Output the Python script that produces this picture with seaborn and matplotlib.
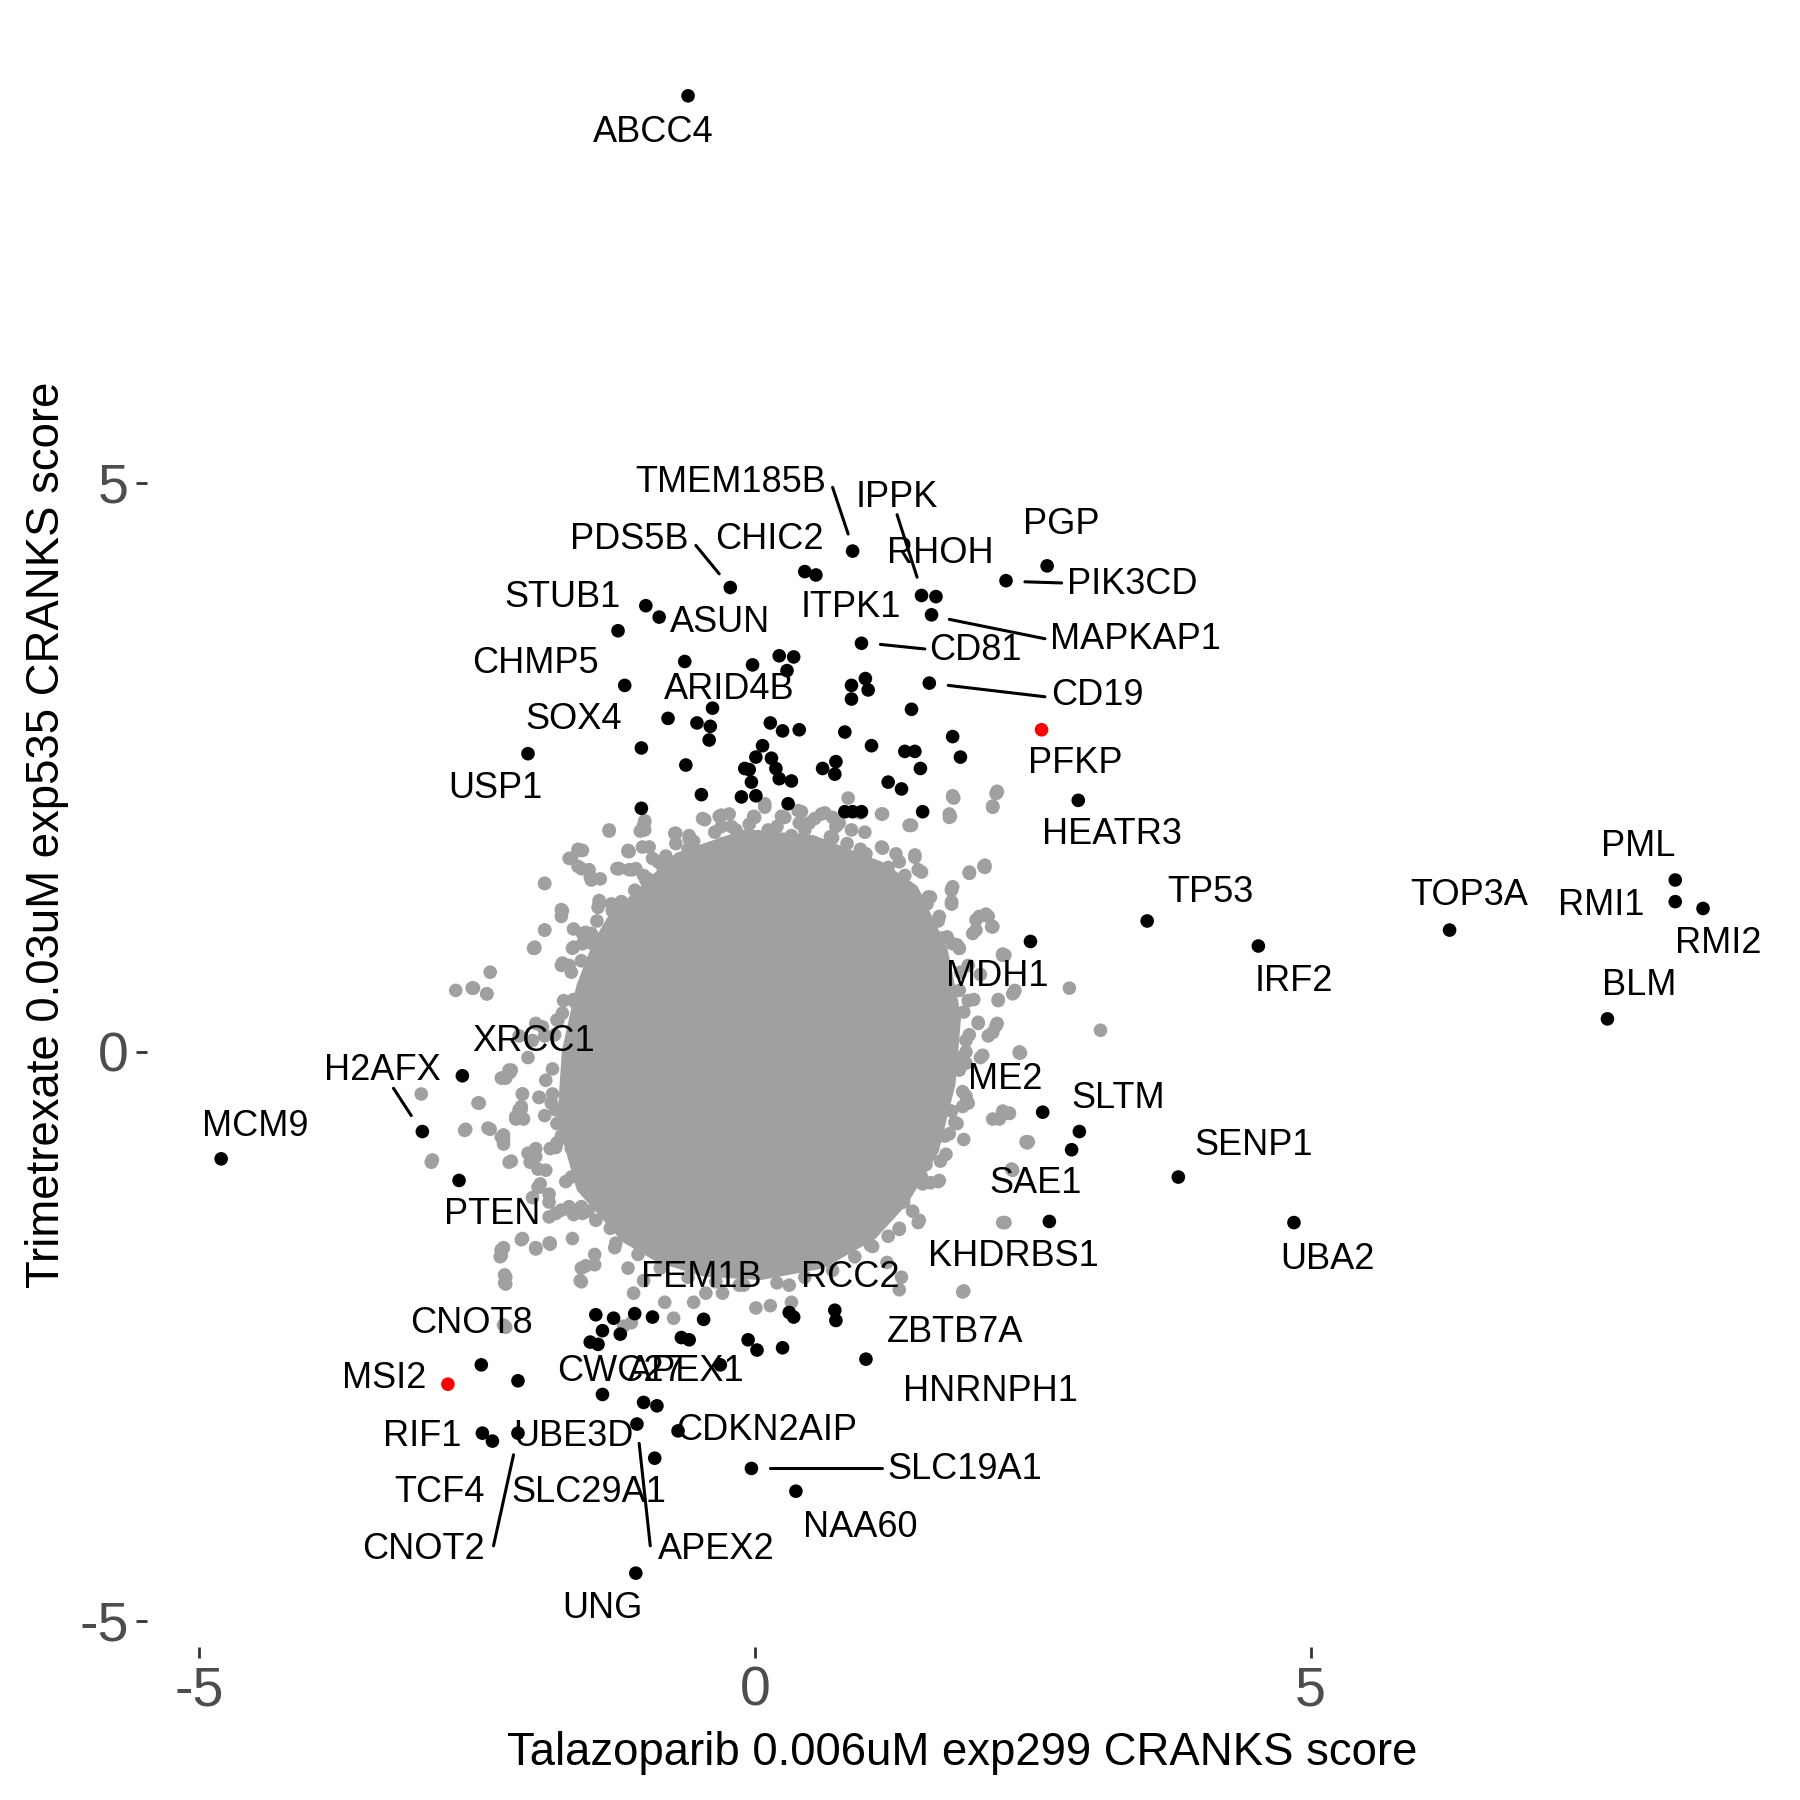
import numpy as np
import pandas as pd
import seaborn as sns
import matplotlib.pyplot as plt

# ---- data (CRANKS scores) ----
# dense centre of the cloud: outline of the solid grey area
core_x = [-1.28, -0.68, -0.08, 0.52, 1.12, 1.42, 1.68, 1.80, 1.75, 1.60, 1.33, 1.05, 0.60, 0.05,
          -0.45, -0.85, -1.15, -1.55, -1.72, -1.68, -1.55, -1.40]
core_y = [1.15, 1.70, 1.90, 1.85, 1.62, 1.42, 0.89, 0.31, -0.28, -0.86, -1.30, -1.60, -1.85, -1.95,
          -1.92, -1.80, -1.63, -1.19, -0.60, 0.00, 0.57, 0.95]

# other (non-hit) genes around the centre
grey_x = [-1.31, -1.00, -0.72, -0.59, -0.47, -0.32, -0.21, -0.01, 0.09, 0.24, 0.39, 0.54, 0.63, 0.76,
          0.95, 1.15, 1.39, 1.75, 1.78, 2.14, 2.18, 2.06, 1.93, 1.78, 1.77, 1.58, 1.50, 1.30, 1.15,
          1.00, 0.83, 0.68, 0.50, 0.33, 0.20, 0.03, -0.14, -0.29, -0.44, -0.60, -0.77, -0.92, -1.07,
          -1.24, -1.39, -1.59, -1.65, -1.59, -1.48, -1.89, -1.74, -1.74, -1.89, -1.98, -1.63, -1.52,
          -1.41, -1.29, -1.14, -0.96,
          1.99, 2.10, 2.14, 1.73, 1.82, 2.23, 1.92, 2.03, 2.34, 2.19, 2.83, 1.97, 1.84, 1.88, 2.01,
          2.18, 2.10, 1.90, 2.03, 1.82, 2.38, 3.11, 1.84, 1.67, 1.92, 1.77, 2.23, 2.14, 1.82, 1.71,
          1.88, 2.44, 1.60, 1.67, 1.54, 1.50, 1.65, 2.31, 1.47, 1.30, 1.34, 2.23, 1.88, 1.30, 1.32,
          1.19, 1.04, 0.91, 0.80, 0.61, 0.35, 0.14, 0.01, 0.33, 0.31,
          -0.14, -0.29, -0.44, -0.55, -0.73, -0.81, -1.00, -1.14, -1.09, -1.26, -1.44, -1.44, -1.56,
          -1.57, -1.84, -1.97, -2.10, -2.26, -2.25, -2.25, -2.28, -2.26, -1.18, -1.11,
          -2.00, -1.85, -1.74, -1.63, -1.56, -1.70, -1.93, -1.95, -2.02, -2.19, -1.97, -2.26, -2.38,
          -2.60, -2.49, -2.10, -2.08, -1.89, -1.78, -2.28, -2.19, -2.04, -2.00, -1.78, -1.63, -1.52,
          -1.67, -1.74, -1.63, -1.97, -1.89, -2.69, -2.54, -2.41, -2.38, -2.12, -1.74, -1.84, -1.65,
          -1.82, -1.56, -1.44, -1.52,
          -3.00, -2.48, -2.91, -2.24, -2.20, -2.26, -2.26, -2.09, -1.94, -2.10, -2.15, -2.28, -2.29,
          -2.24, -2.24, -1.64, -1.97, -1.84, -1.56, -1.52, -1.94, -1.85, -1.79, -1.66, -1.55, -2.24,
          -1.99, -2.53, 1.79, 1.76, 2.18, 2.14, 1.41, 1.44, 2.39, 2.45, 2.29, 2.32, 2.25, 2.25, 2.33,
          1.87, -0.99, -1.31, -1.03,
          # transition zone, left
          -1.58, -1.67, -1.56, -1.47, -1.89, -1.23, -1.13, -1.01, -1.13, -1.73, -1.89, -1.98,
          -1.40, -1.28, -1.55, -1.46, -1.64, -1.73, -1.56, -1.41, -2.54, -2.41,
          -1.52, -1.62, -1.73, -1.77, -1.91, -2.21, -2.27, -2.09, -1.94, -2.48, -2.61, -2.40, -2.28,
          -2.12, -2.15, -2.04, -1.97, -2.21, -2.90,
          -1.88, -1.79, -1.73, -1.79, -1.88, -1.95, -1.85, -1.67, -1.61, -1.43, -1.25, -2.09, -2.28,
          -1.97, -1.85,
          # transition zone, top
          -0.99, -0.99, -1.14, -0.95, -1.22, -1.10, -0.87, -0.71, -0.59, -0.71,
          -0.45, -0.30, -0.23, -0.36, -0.17, -0.11, 0.00, 0.09, 0.27, 0.12, 0.42, 0.40, 0.49, 0.60,
          0.70, 0.73, 0.84, 0.87, 0.99, 1.14, 1.14, 1.27, 1.39, 1.44, 1.47, 1.78, 1.75, 2.17, 2.14,
          2.07, 1.93, 1.77, 1.77, 2.02, 2.14, 1.96, 1.84, 2.23, 1.66, 1.68, 1.56,
          -1.49, -1.47, -1.40, -1.28, -1.08, -0.98, -0.83, -1.55, -1.47, -1.40,
          # transition zone, right
          2.07, 1.93, 1.77, 1.77, 2.08, 1.99, 2.13, 2.23, 1.84, 2.32, 2.19, 2.01, 2.17, 2.14, 2.38,
          1.90, 2.05, 1.81, 1.90, 2.29, 2.20, 2.46, 1.66, 1.51, 1.45, 1.63, 1.75, 1.87, 1.48, 1.30,
          1.06,
          # rim of the dense centre
          -1.20, -1.00, -0.80, -0.55, -0.30, -0.05, 0.20, 0.45, 0.70, 0.95, 1.20, 1.35, 1.55, 1.65,
          1.78, 1.85, 1.92, 1.93, 1.90, 1.87, 1.80, 1.72, 1.58, 1.42, 1.20,
          0.90, 0.70, 0.45, 0.20, -0.10, -0.35, -0.60, -0.85, -1.05, -1.30,
          -1.50, -1.65, -1.78, -1.83, -1.82, -1.80, -1.72, -1.65, -1.55, -1.42]
grey_y = [1.94, 1.99, 1.92, 1.87, 2.05, 2.07, 1.98, 2.07, 2.18, 2.07, 2.12, 2.05, 2.10, 2.01,
          2.10, 2.09, 1.99, 2.09, 2.25, 2.16, 2.29, 1.63, 1.58, 1.45, 1.32, 1.36, 1.58, 1.67, 1.79,
          1.74, 1.83, 1.89, 1.78, 1.90, 1.78, 1.89, 1.81, 1.83, 1.74, 1.78, 1.67, 1.70, 1.61,
          1.61, 1.52, 1.78, 1.70, 1.63, 1.54, 1.48, 1.25, 1.19, 1.07, 0.92, 1.08, 1.05,
          1.27, 1.30, 1.76, 1.52,
          1.16, 1.19, 1.10, 1.01, 0.94, 0.86, 0.76, 0.68, 0.54, 0.46, 0.56, 0.46, 0.54, 0.35, 0.26,
          0.25, 0.14, 0.10, -0.05, -0.05, -0.01, 0.19, -0.16, -0.37, -0.45, -0.52, -0.52, -0.59, -0.63,
          -0.74, -0.77, -0.79, -0.85, -0.96, -0.99, -1.10, -1.14, -1.03, -1.50, -1.56, -1.32, -1.50,
          -2.10, -2.09, -1.98, -1.85, -1.70, -1.58, -1.69, -1.83, -1.89, -2.23, -2.25, -2.20, -2.05,
          -2.05, -2.12, -2.12, -2.20, -2.34, -2.20, -2.01, -1.90, -2.12, -1.72, -1.78, -1.87, -1.90,
          -2.01, -1.69, -1.72, -1.65, -1.72, -1.96, -2.03, -1.79, -2.40, -2.41, -2.38,
          -1.28, -1.32, -1.39, -1.43, -1.36, -1.14, -1.16, -1.03, -0.97, -0.96, -0.85, -0.77, -0.68,
          -0.68, -0.45, -0.48, -0.59, -0.56, -0.63, -0.23, -0.16, -0.05, 0.10, 0.28, 0.46, 0.57,
          0.76, 0.76, 0.92, 0.25, 0.14, 0.54, 0.56, 0.51, 0.70, 0.14, -0.74, -0.85, -0.85,
          -0.37, 0.03, -0.19, -0.45,
          -0.37, -0.45, -0.97, -0.23, -0.18, -0.73, -0.81, -0.37, -0.40, -0.50, -0.59, -1.74, -1.80,
          -1.98, -2.04, -1.64, -1.73, -1.68, -2.02, -1.88, -1.19, -1.25, -1.42, -1.39, -1.42, -2.42,
          0.91, 0.56, 2.23, 2.07, 2.28, 2.15, 1.99, 1.73, -0.01, -0.80, -0.54, -1.04, -1.50, 0.85, 0.52,
          -2.11, 2.03, 1.95, 1.94,
          # transition zone, left
          1.77, 1.70, 1.61, 1.52, 1.48, 1.61, 1.60, 1.80, 1.76, 1.24, 1.07, 0.91,
          1.33, 1.24, 1.04, 0.95, 0.91, 0.78, 0.80, 0.75, 0.56, 0.51,
          0.54, 0.44, 0.34, 0.28, 0.22, -0.16, -0.23, -0.37, -0.40, -0.45, -0.69, -0.67, -0.75,
          -0.51, -0.57, -0.89, -0.92, -0.97, -0.95,
          -0.25, -0.51, -0.60, -0.84, -1.04, -1.19, -1.45, -1.36, -1.41, -1.48, -1.68, -1.64, -1.74,
          -1.73, -1.68,
          # transition zone, top
          2.02, 1.95, 1.77, 1.80, 1.61, 1.60, 1.67, 1.92, 1.90, 1.83,
          2.04, 2.08, 2.09, 1.93, 1.95, 1.87, 2.06, 2.15, 2.06, 1.95, 2.11, 2.01, 2.01, 2.09,
          2.06, 1.98, 2.23, 1.95, 1.93, 2.09, 1.80, 1.74, 1.99, 1.71, 1.60, 2.24, 2.06, 2.27, 2.15,
          1.62, 1.57, 1.43, 1.30, 1.19, 1.10, 1.04, 0.91, 0.85, 1.19, 1.00, 1.36,
          1.60, 1.51, 1.30, 1.24, 1.42, 1.51, 1.63, 1.77, 1.04, 0.92,
          # transition zone, right
          1.64, 1.57, 1.42, 1.30, 1.21, 1.07, 1.10, 0.85, 0.91, 0.51, 0.45, 0.25, 0.23, 0.17, 0.00,
          0.00, -0.03, -0.13, -0.39, -0.54, -0.59, -0.79, -1.13, -1.16, -0.98, -0.76, -0.72, -0.48,
          -1.48, -1.55, -1.71,
          # rim of the dense centre
          1.32, 1.55, 1.72, 1.85, 1.98, 2.00, 1.98, 1.95, 1.88, 1.78, 1.62, 1.55, 1.30, 1.15,
          0.95, 0.70, 0.45, 0.15, -0.10, -0.35, -0.62, -0.90, -1.15, -1.40, -1.62,
          -1.80, -1.92, -1.98, -2.03, -2.05, -2.02, -1.98, -1.90, -1.78, -1.55,
          -1.40, -1.10, -0.80, -0.45, -0.15, 0.15, 0.45, 0.70, 0.95, 1.15]

# hits in both screens
hit_x = [0.88, 0.45, 0.55, -0.22, 1.50, 1.63, 1.59, 2.63, 2.26, -0.98, -0.86, -1.23, 0.96,
         -0.63, -0.02, 0.22, 0.35, 0.29, -1.17, 0.87, 0.995, 1.02, 0.87, 1.57,
         -0.38, -0.78, -0.52, -0.40, -0.41, 0.14, 0.25, 0.40,
         1.41, 0.81, 1.05, 1.35, 1.44, 1.49, 1.20, 1.32, 1.51, 0.81, 0.88, 0.96,
         -2.04, -1.02, -0.62, -0.48, -1.02,
         0.07, 0.01, -0.09, -0.03, -0.12, 0.01, 0.15, 0.19, 0.22, 0.33, 0.30, -0.05,
         0.61, 0.73, 0.72, 1.78, 1.85, 2.91, -0.60,
         8.28, 8.28, 8.53, 7.67, 6.25, 3.53, 4.53, 2.48, 2.59, 2.92, 2.85, 3.81, 4.85, 2.65,
         -4.80, -2.99, -2.63, -2.66,
         -2.46, -2.13, -2.45, -2.36, -2.13,
         -1.43, -1.27, -1.08, -0.92, -1.37, -1.21, -1.48, -1.41, -0.46, -0.66, -0.59, -0.06,
         0.02, 0.25, 0.31, 0.35, 0.72, 0.73, 1.00, -0.31, -1.37, -1.00, -0.88, -1.06, -0.69,
         -0.90, -0.03, 0.37, -1.07]
hit_y = [4.40, 4.22, 4.19, 4.08, 4.01, 4.00, 3.84, 4.27, 4.14, 3.92, 3.82, 3.70, 3.59,
         3.43, 3.40, 3.48, 3.47, 3.35, 3.22, 3.22, 3.28, 3.18, 3.10, 3.24,
         3.02, 2.93, 2.89, 2.86, 2.74, 2.89, 2.82, 2.83,
         3.01, 2.81, 2.69, 2.64, 2.64, 2.49, 2.37, 2.31, 2.11, 2.11, 2.11, 2.11,
         2.62, 2.67, 2.52, 2.26, 2.14,
         2.69, 2.59, 2.49, 2.37, 2.24, 2.25, 2.58, 2.49, 2.40, 2.38, 2.18, 2.48,
         2.49, 2.55, 2.44, 2.77, 2.59, 2.21, 8.40,
         1.51, 1.32, 1.26, 0.29, 1.07, 1.15, 0.93, 0.97, -0.53, -0.70, -0.86, -1.10, -1.50, -1.49,
         -0.94, -0.70, -0.21, -1.13,
         -2.75, -2.89, -3.35, -3.42, -3.35,
         -2.31, -2.34, -2.30, -2.33, -2.45, -2.48, -2.55, -2.57, -2.35, -2.51, -2.53, -2.53,
         -2.62, -2.60, -2.29, -2.33, -2.27, -2.36, -2.70, -2.75, -3.01, -3.08, -3.11, -3.27, -3.33,
         -3.57, -3.66, -3.86, -4.58]

# highlighted genes (red)
red_x = [2.58, -2.76]
red_y = [2.83, -2.92]

# gene labels and where ggrepel put them
label_names = ["ABCC4", "TMEM185B", "IPPK", "PGP", "RHOH", "PIK3CD", "MAPKAP1", "CD81", "CD19",
               "ITPK1", "CHIC2", "PDS5B", "STUB1", "ASUN", "CHMP5", "ARID4B", "SOX4", "USP1",
               "PFKP", "HEATR3", "PML", "TOP3A", "RMI1", "RMI2", "TP53", "IRF2", "BLM", "MDH1",
               "ME2", "SLTM", "SENP1", "SAE1", "KHDRBS1", "UBA2", "XRCC1", "H2AFX", "MCM9", "PTEN",
               "FEM1B", "RCC2", "CNOT8", "ZBTB7A", "MSI2", "CWC27", "APEX1", "HNRNPH1", "CDKN2AIP",
               "RIF1", "UBE3D", "SLC19A1", "TCF4", "SLC29A1", "NAA60", "CNOT2", "APEX2", "UNG"]
label_x = [-0.91, -0.22, 1.28, 2.76, 1.67, 3.40, 3.42, 1.98, 3.08,
           0.86, 0.13, -1.13, -1.73, -0.31, -1.97, -0.23, -1.63, -2.33,
           2.88, 3.21, 7.95, 6.43, 7.61, 8.67, 4.10, 4.85, 7.96, 2.18,
           2.25, 3.27, 4.49, 2.53, 2.33, 5.15, -1.99, -3.35, -4.49, -2.36,
           -0.48, 0.86, -2.55, 1.80, -3.33, -1.21, -0.62, 2.12, 0.11,
           -2.99, -1.63, 1.89, -2.84, -1.49, 0.95, -2.98, -0.35, -1.37]
label_y = [8.08, 5.00, 4.87, 4.63, 4.38, 4.11, 3.62, 3.53, 3.13,
           3.90, 4.50, 4.50, 3.99, 3.77, 3.41, 3.18, 2.92, 2.31,
           2.53, 1.91, 1.80, 1.37, 1.29, 0.95, 1.40, 0.62, 0.58, 0.66,
           -0.24, -0.41, -0.82, -1.16, -1.80, -1.82, 0.09, -0.16, -0.66, -1.43,
           -1.98, -1.98, -2.39, -2.47, -2.87, -2.81, -2.81, -2.98, -3.33,
           -3.38, -3.38, -3.67, -3.87, -3.87, -4.18, -4.37, -4.37, -4.89]

# repel segments (label end -> point end)
seg_x0 = [0.70, 1.28, 2.43, 1.75, 1.13, 1.74, -0.53, -3.25, 0.14, -2.17, -1.04]
seg_x1 = [0.84, 1.46, 2.76, 2.61, 1.53, 2.61, -0.32, -3.09, 1.14, -2.35, -0.94]
seg_y0 = [4.96, 4.72, 4.13, 3.80, 3.58, 3.22, 4.45, -0.32, -3.66, -3.54, -3.44]
seg_y1 = [4.55, 4.17, 4.12, 3.63, 3.54, 3.12, 4.20, -0.56, -3.66, -4.34, -4.34]

# ---- plot ----
sns.set_theme(style="white")
plt.rcParams['font.family'] = ['Liberation Sans', 'DejaVu Sans']

df = pd.concat([
    pd.DataFrame({"x": grey_x, "y": grey_y, "grp": "other"}),
    pd.DataFrame({"x": hit_x, "y": hit_y, "grp": "hit"}),
    pd.DataFrame({"x": red_x, "y": red_y, "grp": "red"}),
], ignore_index=True)

fig = plt.figure(figsize=(9, 9), dpi=200)
ax = fig.add_axes([0.0817, 0.085, 0.9056, 0.9028])

grey = "#A0A0A0"
ax.fill(core_x, core_y, color=grey, lw=4.5, joinstyle="round", zorder=1)
sns.scatterplot(data=df, x="x", y="y", hue="grp",
                palette={"other": grey, "hit": "black", "red": "#FF0000"},
                s=24, linewidth=0, legend=False, ax=ax, zorder=2)

for x0, x1, y0, y1 in zip(seg_x0, seg_x1, seg_y0, seg_y1):
    ax.plot([x0, x1], [y0, y1], color="black", lw=1.1, zorder=3)
for name, lx, ly in zip(label_names, label_x, label_y):
    ax.text(lx, ly, name, ha="center", va="center", fontsize=13, color="black", zorder=4)

allx = grey_x + hit_x + red_x
ally = grey_y + hit_y + red_y
rx = max(allx) - min(allx)
ry = max(ally) - min(ally)
ax.set_xlim(min(allx) - 0.05 * rx, max(allx) + 0.05 * rx)
ax.set_ylim(min(ally) - 0.05 * ry, max(ally) + 0.05 * ry)

ax.set_xticks([-5, 0, 5])
ax.set_yticks([-5, 0, 5])
ax.set_xticklabels(["-5", "0", "5"])
ax.set_yticklabels(["-5", "0", "5"])
ax.tick_params(axis="both", which="major", length=4.1, width=1.0, color="#333333",
               labelcolor="#4D4D4D", labelsize=20, pad=2.5, bottom=True, left=True)
for sp in ax.spines.values():
    sp.set_visible(False)
ax.grid(False)

ax.set_xlabel("Talazoparib 0.006uM exp299 CRANKS score", fontsize=16.4, color="black")
ax.set_ylabel("Trimetrexate 0.03uM exp535 CRANKS score", fontsize=16.4, color="black")
ax.xaxis.label.set_va("center")
ax.yaxis.label.set_va("center")
ax.xaxis.set_label_coords(0.50, -0.065)
ax.yaxis.set_label_coords(-0.0615, 0.50)

fig.savefig("out.png", dpi=200)
